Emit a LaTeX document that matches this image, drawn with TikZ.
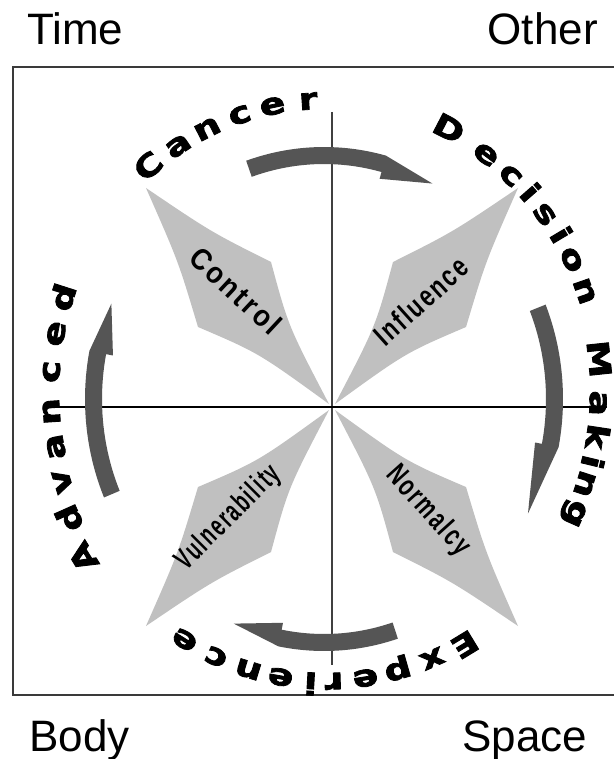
\documentclass[tikz,border=0pt]{standalone}
\usepackage{fontspec}
\setmainfont{Liberation Sans}
\newfontfamily\ringfont{DejaVu Sans}[BoldFeatures={FakeBold=2.5}]
\usetikzlibrary{calc}
\definecolor{kitegray}{HTML}{C0C0C0}
\definecolor{arrowgray}{HTML}{555555}
\definecolor{framegray}{HTML}{3A3A3A}
\newcommand\ringchar[1]{\scalebox{1.25}[1]{#1}}
\newcommand\ringword[2]{%
  \foreach \ch/\ang/\dr [count=\i] in {#2} {%
    \pgfmathsetmacro\rr{\dr+10*26.7*28.2/sqrt((28.2*cos(\ang))^2+(26.7*sin(\ang))^2)}%
    \pgfmathsetmacro\px{326+\rr*cos(\ang)}%
    \pgfmathsetmacro\py{391-\rr*sin(\ang)}%
    \pgfmathsetmacro\rot{atan2(712.9*sin(\ang),795.2*cos(\ang))-90}%
    \node[ringletter, rotate=\rot] (#1\i) at (\px,\py) {\ringchar{\ch}};
  }}
\newcommand\bigarrowshape[3]{%
  \fill[bigarrow] plot[domain=#1:#2, samples=24] ({324+239*cos(\x)},{399-252*sin(\x)})
    -- ({324+231*cos(#3)},{399-244*sin(#3)})
    -- ({324+215*cos(#2)},{399-228*sin(#2)})
    -- plot[domain=#2:#1, samples=24] ({324+222*cos(\x)},{399-235*sin(\x)})
    -- cycle;}
\begin{document}
\begin{tikzpicture}[x=1pt,y=-1pt,
  corner/.style={font=\fontsize{44}{48}\selectfont, inner sep=0pt},
  kite/.style={fill=kitegray, draw=none},
  kitelabel/.style={font=\fontsize{30}{32}\selectfont\bfseries\addfontfeature{LetterSpace=10}, inner sep=0pt},
  ringletter/.style={font=\ringfont\bfseries\fontsize{30}{32}\selectfont, inner sep=0pt, anchor=base},
  bigarrow/.style={fill=arrowgray, draw=none},
  haxis/.style={line width=2.2pt, black},
  vaxis/.style={line width=1.6pt, black!75},
  frame/.style={line width=1.6pt, framegray},
]
\useasboundingbox (0,0) rectangle (613,759);
\fill[white] (0,0) rectangle (613,759);
% frame (right side lies outside the picture)
\draw[frame] (625,67) -- (13,67) -- (13,695) -- (625,695);
% corner labels
\node[corner, anchor=base west] (time) at (27,45) {Time};
\node[corner, anchor=base east] (other) at (598,45) {Other};
\node[corner, anchor=base west] (body) at (29,751) {Body};
\node[corner, anchor=base west] (space) at (462,751) {Space};
% centre
\coordinate (C) at (332,407);
% kites
\foreach \sx/\sy/\nm in {-1/-1/tl, 1/-1/tr, -1/1/bl, 1/1/br} {
  \coordinate (\nm-n) at ($(C)+(3*\sx,3*\sy)$);
  \coordinate (\nm-a) at ($(C)+(61*\sx,145*\sy)$);
  \coordinate (\nm-f) at ($(C)+(186*\sx,219*\sy)$);
  \coordinate (\nm-b) at ($(C)+(134*\sx,80*\sy)$);
  \coordinate (\nm-k) at ($(C)+(97*\sx,112*\sy)$);
  \fill[kite] (\nm-n) .. controls ($($(\nm-n)!0.5!(\nm-a)$)!0.18!(\nm-k)$) .. (\nm-a)
     .. controls ($($(\nm-a)!0.5!(\nm-f)$)!0.10!(\nm-k)$) .. (\nm-f)
     .. controls ($($(\nm-f)!0.5!(\nm-b)$)!0.10!(\nm-k)$) .. (\nm-b)
     .. controls ($($(\nm-b)!0.5!(\nm-n)$)!0.18!(\nm-k)$) .. (\nm-n) -- cycle;
}
% axes
\coordinate (axL) at (45,407);
\coordinate (axR) at (607,407);
\coordinate (axT) at (332,112);
\coordinate (axB) at (332,665);
\draw[vaxis] (axT) -- (axB);
\draw[haxis] (axL) -- (axR);
% curved arrows (clockwise)
\bigarrowshape{109}{75}{62}
\bigarrowshape{22}{-11}{-28}
\bigarrowshape{288}{259}{247}
\bigarrowshape{203}{169}{157}
% kite labels
\node[kitelabel, rotate=-43] (control) at (236,291) {\resizebox{112pt}{\height}{Control}};
\node[kitelabel, rotate=42] (influence) at (421,301) {\resizebox{115pt}{\height}{Influence}};
\node[kitelabel, rotate=45] (vulner) at (229,518) {\resizebox{135pt}{\height}{Vulnerability}};
\node[kitelabel, rotate=-48] (normal) at (428,511) {\resizebox{110pt}{\height}{Normalcy}};
% ring text
\ringword{adv}{A/214.5/12, d/206.5/6, v/199/2, a/191.7/0, n/184.3/0, c/176/0, e/168/0, d/160.3/0}
\ringword{can}{C/128.2/0, a/121/0, n/114.3/0, c/107.3/0, e/100.6/0, r/93.5/0}
\ringword{dec}{D/65/0, e/56/0, c/49.5/0, i/44.3/0, s/39/0, i/33.7/0, o/28.2/0, n/21.2/0}
\ringword{mak}{M/6.7/-3, a/-2.6/-3, k/-9.6/-3, i/-15/-3, n/-19.8/-2, g/-26.3/0}
\ringword{exp}{E/298.6/0, x/291.6/0, p/284.4/0, e/277.8/0, r/271.6/0, i/267/0, e/261/0, n/254.5/0, c/247.6/0, e/240.5/0}
\end{tikzpicture}
\end{document}
